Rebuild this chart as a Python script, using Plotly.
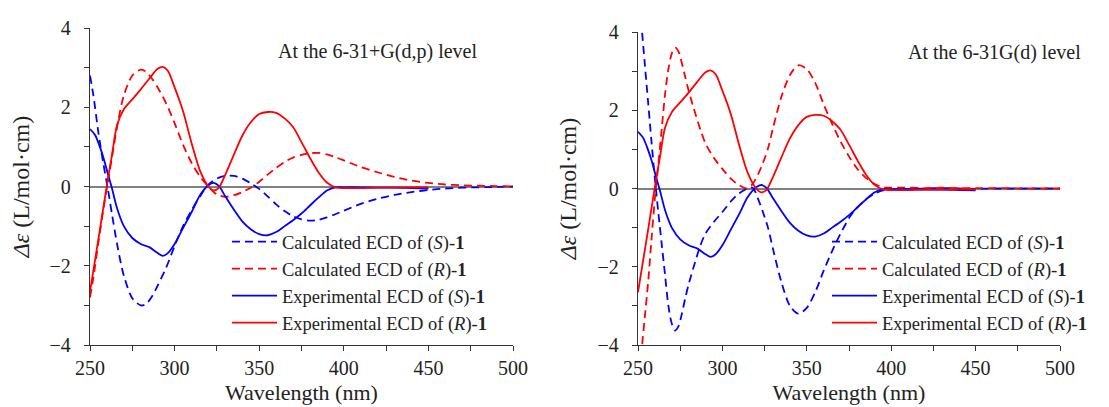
import plotly.graph_objects as go

# ---------------- data ----------------
wl_exp = [250, 253, 256, 258, 261, 263, 266, 270, 275, 280, 285, 290, 293, 296, 300, 305, 310, 315, 320, 323,
          326, 330, 335, 340, 345, 350, 355, 360, 365, 370, 375, 380, 385, 390, 395, 400, 410, 420, 430, 440, 450]
exp_R = [-2.65, -1.85, -1.05, -0.5, 0.3, 0.8, 1.55, 1.95, 2.2, 2.45, 2.72, 2.97, 3.02, 2.92, 2.5, 1.9, 1.1, 0.4, 0.0, -0.1,
         -0.04, 0.3, 0.8, 1.28, 1.62, 1.83, 1.88, 1.86, 1.72, 1.5, 1.12, 0.72, 0.36, 0.1, -0.02, -0.04, -0.04, -0.03, -0.03, -0.02, -0.02]
exp_S = [1.45, 1.3, 0.98, 0.72, 0.25, -0.05, -0.55, -1.0, -1.3, -1.45, -1.53, -1.68, -1.75, -1.68, -1.45, -1.05, -0.65, -0.22, 0.03, 0.09,
         0.02, -0.25, -0.58, -0.88, -1.08, -1.2, -1.23, -1.15, -1.0, -0.85, -0.68, -0.48, -0.28, -0.1, -0.02, -0.02, -0.02, -0.03, -0.03, -0.04, -0.05]

# 6-31+G(d,p) calculations
wl_a = [250, 252, 255, 258, 260.5, 263, 266, 270, 275, 280, 283, 287, 290, 295, 300, 305, 310, 315, 320, 325, 330, 335, 340,
        345, 350, 355, 360, 365, 370, 375, 380, 385, 390, 395, 400, 410, 420, 430, 440, 450, 460, 470, 480, 490, 500]
calcA_S = [2.8, 2.3, 1.35, 0.55, -0.05, -0.7, -1.45, -2.25, -2.82, -3.0, -2.97, -2.75, -2.5, -2.05, -1.5, -1.0, -0.6, -0.25, 0.05, 0.2, 0.27, 0.27, 0.2,
           0.08, -0.06, -0.25, -0.45, -0.62, -0.75, -0.83, -0.86, -0.84, -0.78, -0.7, -0.61, -0.44, -0.31, -0.21, -0.14, -0.09, -0.05, -0.03, -0.02, -0.01, 0.0]
calcA_R = [-2.8, -2.3, -1.4, -0.55, 0.1, 0.75, 1.5, 2.3, 2.8, 2.95, 2.9, 2.7, 2.5, 2.1, 1.6, 1.05, 0.6, 0.25, 0.0, -0.2, -0.26, -0.22, -0.14,
           -0.03, 0.12, 0.3, 0.47, 0.62, 0.73, 0.8, 0.84, 0.85, 0.81, 0.74, 0.66, 0.49, 0.36, 0.24, 0.15, 0.09, 0.05, 0.03, 0.02, 0.01, 0.0]

# 6-31G(d) calculations
wl_b = [250, 252, 254, 256, 258, 260, 262, 264, 266, 268, 270, 272, 274, 276, 278, 280, 283, 287, 290, 295, 300, 305, 310,
        315, 318, 321, 324, 327, 330, 335, 340, 345, 350, 355, 360, 365, 370, 376, 380, 385, 390, 395, 400, 410, 420, 430,
        440, 450, 460, 470, 480, 490, 500]
calcB_S = [5.3, 4.2, 3.2, 2.2, 1.2, 0.25, -0.6, -1.4, -2.2, -3.0, -3.45, -3.63, -3.52, -3.2, -2.8, -2.45, -2.0, -1.45, -1.15, -0.85, -0.6, -0.33, -0.12,
           0.0, 0.02, -0.25, -0.6, -1.0, -1.55, -2.4, -3.0, -3.2, -3.05, -2.65, -2.1, -1.6, -1.15, -0.69, -0.48, -0.28, -0.14, -0.05, -0.02, -0.01, 0.0, 0.01,
           0.0, -0.01, 0.0, 0.0, 0.0, 0.0, 0.0]
calcB_R = [-5.3, -4.2, -3.3, -2.4, -1.3, -0.25, 0.6, 1.5, 2.4, 3.05, 3.45, 3.6, 3.5, 3.2, 2.85, 2.5, 2.05, 1.5, 1.15, 0.78, 0.5, 0.25, 0.08,
           0.0, 0.12, 0.35, 0.65, 1.02, 1.55, 2.35, 2.9, 3.15, 3.05, 2.7, 2.15, 1.65, 1.2, 0.75, 0.5, 0.27, 0.12, 0.03, 0.02, 0.02, 0.01, 0.02,
           0.01, 0.01, 0.01, 0.01, 0.0, 0.0, 0.0]

names = ["Calculated ECD of (<i>S</i>)-<b>1</b>", "Calculated ECD of (<i>R</i>)-<b>1</b>",
         "Experimental ECD of (<i>S</i>)-<b>1</b>", "Experimental ECD of (<i>R</i>)-<b>1</b>"]
panel_titles = ["At the 6-31+G(d,p) level", "At the 6-31G(d) level"]
x_ticks = [250, 300, 350, 400, 450, 500]
y_ticks = [-4, -2, 0, 2, 4]

BLUE = "#0000FF"
RED = "#FF0000"
DASH = "8px,5px"
LW = 1.8
W, H = 1109, 407
FONT = "Liberation Serif, Times New Roman, serif"

fig = go.Figure()

panels = [
    ("x", "y", "legend", wl_a, calcA_S, calcA_R),
    ("x2", "y2", "legend2", wl_b, calcB_S, calcB_R),
]
for i, (xa, ya, lg, wl, cs, cr) in enumerate(panels):
    series = [
        (wl, cs, BLUE, DASH, names[0]),
        (wl, cr, RED, DASH, names[1]),
        (wl_exp, exp_S, BLUE, "solid", names[2]),
        (wl_exp, exp_R, RED, "solid", names[3]),
    ]
    for k, (xx, yy, c, d, nm) in enumerate(series):
        fig.add_trace(go.Scatter(
            x=xx, y=yy, mode="lines", name=nm, xaxis=xa, yaxis=ya, legend=lg,
            legendgroup=f"{lg}_{k}",
            line=dict(color=c, width=LW, dash=d, shape="spline", smoothing=0.8),
        ))

def xaxis_cfg(domain, anchor):
    return dict(
        domain=domain, anchor=anchor, range=[250, 500], tickmode="array", tickvals=x_ticks,
        ticks="outside", ticklen=5, tickwidth=1.2, tickcolor="#333",
        showline=True, linecolor="#333", linewidth=1.3, showgrid=False, zeroline=False,
        tickfont=dict(family=FONT, size=20, color="#222"),
        title=dict(text="Wavelength (nm)", font=dict(family=FONT, size=22, color="#222"), standoff=6),
        minor=dict(tick0=250, dtick=25, ticks="outside", ticklen=5, tickwidth=1.2, tickcolor="#333"),
        ticklabelstandoff=0,
        automargin=False,
    )

def yaxis_cfg(domain, anchor):
    return dict(
        domain=domain, anchor=anchor, range=[-4, 4], tickmode="array", tickvals=y_ticks,
        ticks="outside", ticklen=5, tickwidth=1.2, tickcolor="#333",
        showline=True, linecolor="#333", linewidth=1.3, showgrid=False,
        zeroline=True, zerolinecolor="#808080", zerolinewidth=1.5,
        tickfont=dict(family=FONT, size=20, color="#222"),
        title=dict(text="<i>Δε</i> (L/mol·cm)", font=dict(family=FONT, size=24, color="#222"), standoff=14),
        minor=dict(tick0=-4, dtick=1, ticks="outside", ticklen=5, tickwidth=1.2, tickcolor="#333"),
        ticklabelstandoff=9,
        automargin=False,
    )

legend_common = dict(
    xanchor="left", yanchor="top", bgcolor="rgba(0,0,0,0)", borderwidth=0,
    font=dict(family=FONT, size=18.5, color="#222"), itemwidth=45, tracegroupgap=0,
    traceorder="normal",
)

fig.update_layout(
    width=W, height=H, margin=dict(l=0, r=0, t=0, b=0),
    paper_bgcolor="white", plot_bgcolor="white",
    font=dict(family=FONT, color="#222"),
    xaxis=xaxis_cfg([82 / W, 505 / W], "y"),
    yaxis=yaxis_cfg([(H - 337) / H, (H - 20) / H], "x"),
    xaxis2=xaxis_cfg([630 / W, 1052 / W], "y2"),
    yaxis2=yaxis_cfg([(H - 337) / H, (H - 24) / H], "x2"),
    legend=dict(x=219 / W, y=1 - 215 / H, **legend_common),
    legend2=dict(x=819 / W, y=1 - 215 / H, **legend_common),
    annotations=[
        dict(text=panel_titles[0], xref="paper", yref="paper", x=369 / W, y=1 - 43 / H,
             xanchor="center", yanchor="middle", showarrow=False,
             font=dict(family=FONT, size=20, color="#222")),
        dict(text=panel_titles[1], xref="paper", yref="paper", x=986 / W, y=1 - 44 / H,
             xanchor="center", yanchor="middle", showarrow=False,
             font=dict(family=FONT, size=20, color="#222")),
    ],
)

fig.write_html("out.html")
